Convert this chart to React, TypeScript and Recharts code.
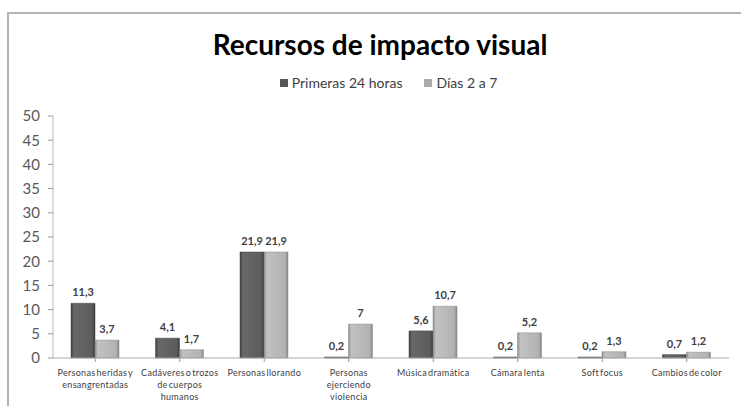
import React from "react";
import { BarChart, Bar, XAxis, YAxis, LabelList } from "recharts";

const categories = [
  "Personas heridas y\nensangrentadas",
  "Cadáveres o trozos\nde cuerpos\nhumanos",
  "Personas llorando",
  "Personas\nejerciendo\nviolencia",
  "Música dramática",
  "Cámara lenta",
  "Soft focus",
  "Cambios de color",
];
const primeras24 = [11.3, 4.1, 21.9, 0.2, 5.6, 0.2, 0.2, 0.7];
const dias2a7 = [3.7, 1.7, 21.9, 7, 10.7, 5.2, 1.3, 1.2];
const yTicks = [0, 5, 10, 15, 20, 25, 30, 35, 40, 45, 50];
const seriesNames = ["Primeras 24 horas", "Días 2 a 7"];
const title = "Recursos de impacto visual";

const data = categories.map((c, i) => ({ cat: c, a: primeras24[i], b: dias2a7[i] }));

const FONT = "Lato, 'Open Sans', sans-serif";

const fmt = (v: any) => String(v).replace(".", ",");

const XTick = (props: any) => {
  const { x, y, payload } = props;
  const lines = String(payload.value).split("\n");
  return (
    <g transform={`translate(${x},${y})`}>
      {lines.map((l, i) => (
        <text key={i} x={0} y={12 + i * 12} textAnchor="middle" fontSize={9} fill="#404040" fontFamily={FONT} letterSpacing={0.3} wordSpacing={-1.5}>
          {l}
        </text>
      ))}
    </g>
  );
};

const labelStyle = { fontSize: 11, fontWeight: 700, fill: "#404040", fontFamily: FONT };

export default function App() {
  return (
    <div style={{ position: "fixed", left: 0, top: 0, width: 741, height: 406, background: "#fff", overflow: "hidden" }}>
      <div style={{ position: "absolute", left: 7, top: 12, width: 740, height: 400, borderLeft: "2px solid #b4b4b4", borderTop: "2px solid #b4b4b4" }} />
      <div style={{ position: "absolute", left: 0, top: 27, width: 760, textAlign: "center", fontFamily: FONT, fontWeight: 700, fontSize: 28, color: "#000" }}>
        {title}
      </div>
      <div style={{ position: "absolute", left: 18, top: 74, width: 741, display: "flex", justifyContent: "center", gap: 22, fontFamily: FONT, fontSize: 14, color: "#404040" }}>
        <span style={{ display: "flex", alignItems: "center" }}>
          <span style={{ width: 8, height: 8, background: "#555", marginRight: 4, display: "inline-block" }} />
          {seriesNames[0]}
        </span>
        <span style={{ display: "flex", alignItems: "center" }}>
          <span style={{ width: 8, height: 8, background: "#aaa", marginRight: 4, display: "inline-block" }} />
          {seriesNames[1]}
        </span>
      </div>
      <div style={{ position: "absolute", left: 0, top: 0 }}>
        <BarChart width={741} height={406} data={data} margin={{ top: 116, right: 12, left: 0, bottom: 18 }} barGap={0} barSize={24}>
          <defs>
            <linearGradient id="gDark" x1="0" y1="0" x2="1" y2="0">
              <stop offset="0%" stopColor="#3e3e3e" />
              <stop offset="12%" stopColor="#686868" />
              <stop offset="88%" stopColor="#5c5c5c" />
              <stop offset="100%" stopColor="#383838" />
            </linearGradient>
            <linearGradient id="gLight" x1="0" y1="0" x2="1" y2="0">
              <stop offset="0%" stopColor="#8e8e8e" />
              <stop offset="12%" stopColor="#c2c2c2" />
              <stop offset="88%" stopColor="#b2b2b2" />
              <stop offset="100%" stopColor="#848484" />
            </linearGradient>
          </defs>
          <XAxis
            dataKey="cat"
            interval={0}
            tick={<XTick />}
            tickLine={{ stroke: "#999" }}
            axisLine={{ stroke: "#aaa" }}
            tickSize={4}
            height={30}
          />
          <YAxis
            width={53}
            domain={[0, 50]}
            ticks={yTicks}
            interval={0}
            tick={{ fontSize: 15, fill: "#595959", fontFamily: FONT }}
            tickLine={{ stroke: "#999" }}
            axisLine={{ stroke: "#bbb" }}
            tickSize={5}
            tickMargin={8}
          />
          <Bar dataKey="a" name={seriesNames[0]} fill="url(#gDark)" stroke="#444" strokeWidth={0.5} isAnimationActive={false}>
            <LabelList dataKey="a" position="top" offset={7} formatter={fmt} style={labelStyle} />
          </Bar>
          <Bar dataKey="b" name={seriesNames[1]} fill="url(#gLight)" stroke="#888" strokeWidth={0.5} isAnimationActive={false}>
            <LabelList dataKey="b" position="top" offset={7} formatter={fmt} style={labelStyle} />
          </Bar>
        </BarChart>
      </div>
    </div>
  );
}
